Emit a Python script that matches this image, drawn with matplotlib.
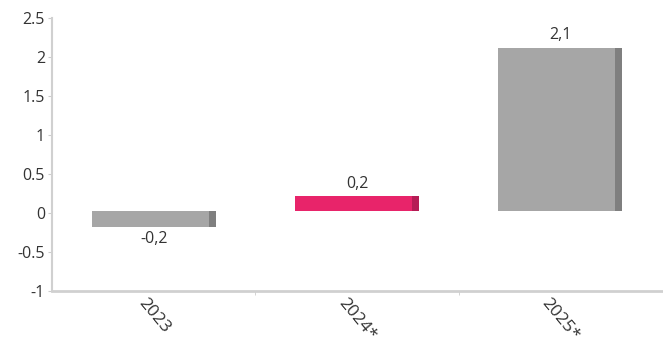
import matplotlib.pyplot as plt
from matplotlib.transforms import ScaledTranslation

years = ["2023", "2024*", "2025*"]
values = [-0.2, 0.2, 2.1]
value_labels = ["-0,2", "0,2", "2,1"]
bar_colors = ["#a6a6a6", "#e8246a", "#a6a6a6"]
edge_colors = ["#7f7f7f", "#b51c55", "#7f7f7f"]
y_ticks = [-1, -0.5, 0, 0.5, 1, 1.5, 2, 2.5]
y_tick_labels = ["-1", "-0.5", "0", "0.5", "1", "1.5", "2", "2.5"]

plt.rcParams["font.family"] = ["Open Sans", "DejaVu Sans"]

fig = plt.figure(figsize=(6.63, 3.45), dpi=100)
ax = fig.add_axes([0.0784, 0.1565, 0.92, 0.7915])

x = list(range(len(years)))
width = 0.61
side = 0.034
depth = 0.02  # small 3d lift of the front face
ax.bar(x, values, width=width, bottom=depth, color=bar_colors, linewidth=0)
# darker strip on the right side of each bar
ax.bar([i + width / 2 - side / 2 for i in x], values, width=side, bottom=depth,
       color=edge_colors, linewidth=0)

for i, v in enumerate(values):
    if v < 0:
        ax.annotate(value_labels[i], (i, v + depth), xytext=(0, -3), textcoords="offset points",
                    ha="center", va="top", fontsize=11.5, color="#333333")
    else:
        ax.annotate(value_labels[i], (i, v + depth), xytext=(0, 3), textcoords="offset points",
                    ha="center", va="bottom", fontsize=11.5, color="#333333")

ax.set_xlim(-0.5, 2.5)
ax.set_ylim(-1, 2.5)
ax.set_yticks(y_ticks)
ax.set_yticklabels(y_tick_labels, fontsize=11.5, color="#333333")
ax.set_xticks(x)
ax.set_xticklabels(years, rotation=-50, ha="center", va="top", fontsize=12.5, color="#333333")
shift = ScaledTranslation(-12 / 100, 0, fig.dpi_scale_trans)
for lab in ax.get_xticklabels():
    lab.set_transform(lab.get_transform() + shift)
ax.set_xticks([0.5, 1.5], minor=True)
ax.tick_params(axis="x", which="major", length=0, pad=3)
ax.tick_params(axis="x", which="minor", length=3, color="#cccccc", direction="out")
ax.tick_params(axis="y", length=3, color="#cccccc", pad=2)

for s in ["top", "right"]:
    ax.spines[s].set_visible(False)
ax.spines["left"].set_color("#d0d0d0")
ax.spines["bottom"].set_color("#d0d0d0")
ax.spines["left"].set_linewidth(1.5)
ax.spines["bottom"].set_linewidth(2)

fig.savefig("out.png", dpi=100)
